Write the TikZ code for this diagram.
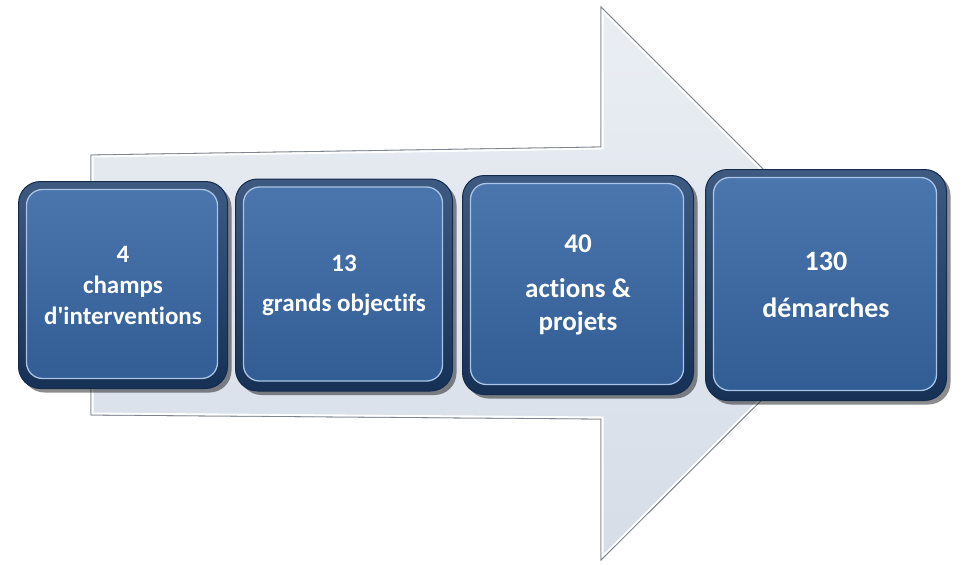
\documentclass[tikz,border=0pt]{standalone}
\usepackage{fontspec}
\setmainfont{Carlito}[Ligatures=NoCommon]
\usetikzlibrary{positioning, shadows}
\definecolor{bleuNuit}{HTML}{1C3D6B}
\definecolor{bleuHaut}{HTML}{4B77AE}
\definecolor{bleuBas}{HTML}{305C93}
\definecolor{bleuClair}{HTML}{A9C4E6}
\definecolor{grisHaut}{HTML}{EAEEF4}
\definecolor{grisBas}{HTML}{D6DDE7}
\definecolor{grisBord}{HTML}{7E858F}
\tikzset{
    % grandes boites bleues
    boite/.style={
           rectangle,
           rounded corners=22pt,
           top color=bleuNuit!85!white, bottom color=bleuNuit!80!black,
           draw=bleuNuit!70!black, line width=1pt,
           drop shadow={shadow xshift=4pt, shadow yshift=-4pt, opacity=.45, fill=black},
           path picture={
             \path[top color=bleuHaut, bottom color=bleuBas, draw=bleuClair,
                   line width=1.3pt, rounded corners=16pt]
               ([shift={(8pt,-8pt)}]path picture bounding box.north west) rectangle
               ([shift={(-10pt,10pt)}]path picture bounding box.south east);},
           text=white,
           align=center,
           font=\bfseries\fontsize{25}{31}\selectfont},
    % la grosse fleche
    fleche/.style={
           top color=grisHaut, bottom color=grisBas,
           draw=grisBord, line width=.8pt,
           line join=miter}
}
\newcommand\contourfleche{(91,155) -- (601,147) -- (601,7) -- (878,284)
  -- (601,560) -- (601,419) -- (91,415) -- cycle}

\begin{document}
\begin{tikzpicture}[x=1pt, y=-1pt]
	\useasboundingbox (0,0) rectangle (964,565);
	%
	% fleche
	%
	\path[fleche] \contourfleche;
	\begin{scope}
	  \clip \contourfleche;
	  \draw[white, line width=5pt] \contourfleche;
	\end{scope}
	\draw[grisBord, line width=.8pt] \contourfleche;
	%
	% boites
	%
	\node[boite, minimum width=209pt, minimum height=207pt] (champs) at (123,285)
	  {4\\champs\\d\textquotesingle interventions};
	\node[boite, minimum width=217pt, minimum height=212pt, right=7pt of champs] (objectifs)
	  {13\\[9pt]grands objectifs};
	\node[boite, minimum width=231pt, minimum height=219pt, right=9pt of objectifs,
	      font=\bfseries\fontsize{27}{33}\selectfont] (actions)
	  {40\\[12pt]actions \&\\projets};
	\node[boite, minimum width=241pt, minimum height=231pt, right=11pt of actions,
	      font=\bfseries\fontsize{28}{33}\selectfont] (demarches)
	  {130\\[14pt]démarches};
\end{tikzpicture}
\end{document}
